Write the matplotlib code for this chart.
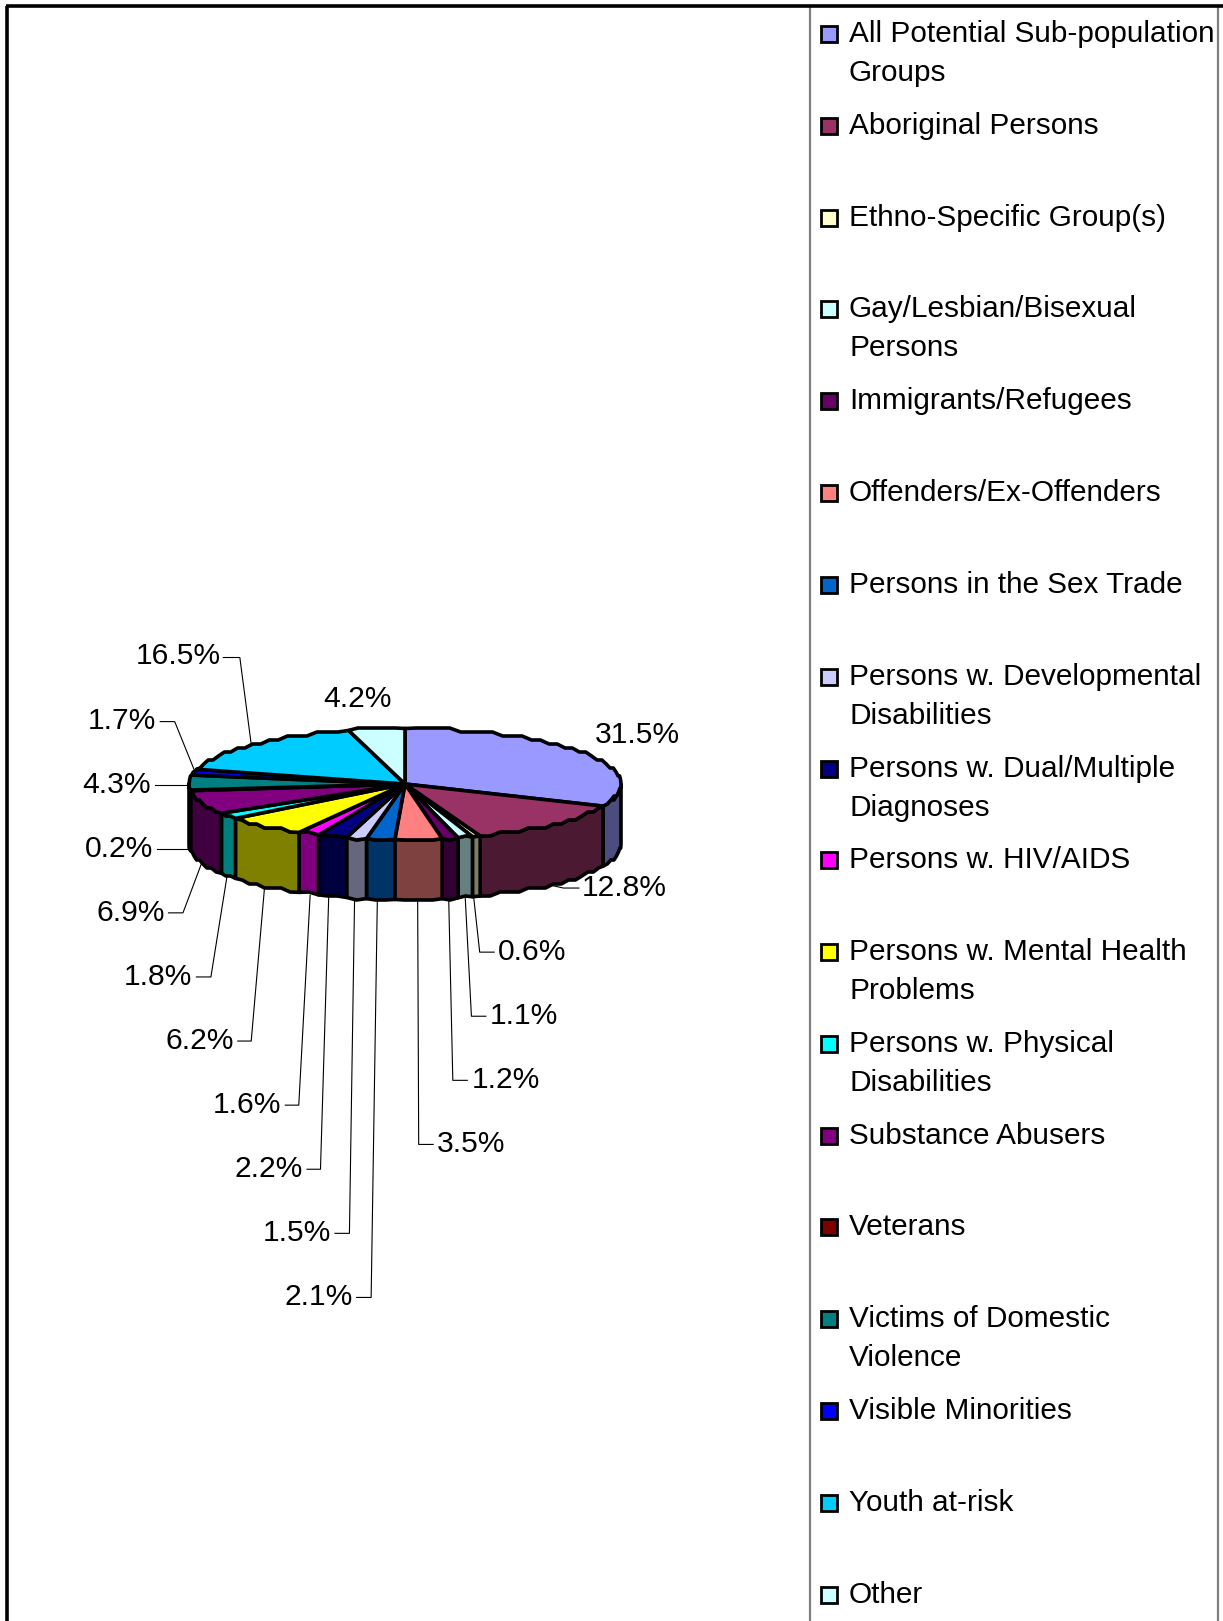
import numpy as np
from matplotlib import pyplot as plt
from matplotlib.patches import Rectangle

plt.rcParams['font.family'] = ['Liberation Sans', 'DejaVu Sans']

categories = ["All Potential Sub-population\nGroups", "Aboriginal Persons", "Ethno-Specific Group(s)",
              "Gay/Lesbian/Bisexual\nPersons", "Immigrants/Refugees", "Offenders/Ex-Offenders",
              "Persons in the Sex Trade", "Persons w. Developmental\nDisabilities",
              "Persons w. Dual/Multiple\nDiagnoses", "Persons w. HIV/AIDS",
              "Persons w. Mental Health\nProblems", "Persons w. Physical\nDisabilities",
              "Substance Abusers", "Veterans", "Victims of Domestic\nViolence",
              "Visible Minorities", "Youth at-risk", "Other"]
values = [31.5, 12.8, 0.6, 1.1, 1.2, 3.5, 2.1, 1.5, 2.2, 1.6, 6.2, 1.8, 6.9, 0.2, 4.3, 1.7, 16.5, 4.2]
colors = ["#9999FF", "#993366", "#FFFFCC", "#CCFFFF", "#660066", "#FF8080", "#0066CC", "#CCCCFF", "#000080",
          "#FF00FF", "#FFFF00", "#00FFFF", "#800080", "#800000", "#008080", "#0000FF", "#00CCFF", "#CCFFFF"]
side_colors = ["#4C4C7F", "#4C1933", "#7F7F66", "#667F7F", "#330033", "#7F4040", "#003366", "#66667F", "#000040",
               "#7F007F", "#7F7F00", "#007F7F", "#400040", "#400000", "#004040", "#00007F", "#00667F", "#667F7F"]
legend_y = [31, 120, 209, 297, 386, 475, 564, 653, 742, 830, 919, 1008, 1097, 1185, 1274, 1363, 1452, 1541]

# label text, centre of text, leader line (shown-size coords, scaled below)
labels = [
    ("31.5%", 617, 709, []),
    ("12.8%", 604, 857, [(560, 859), (545, 859), (527, 855)]),
    ("0.6%", 515, 919, [(478, 921), (464, 921), (458, 866)]),
    ("1.1%", 507, 981, [(470, 983), (456, 983), (450, 868)]),
    ("1.2%", 489, 1043, [(452, 1045), (438, 1045), (434, 868)]),
    ("3.5%", 456, 1105, [(419, 1107), (405, 1107), (404, 870)]),
    ("2.1%", 308, 1253, [(345, 1255), (359, 1255), (365, 870)]),
    ("1.5%", 287, 1191, [(324, 1193), (338, 1193), (343, 868)]),
    ("2.2%", 260, 1129, [(297, 1131), (310, 1131), (318, 866)]),
    ("1.6%", 239, 1067, [(276, 1069), (289, 1069), (300, 866)]),
    ("6.2%", 193, 1005, [(230, 1007), (243, 1007), (256, 857)]),
    ("1.8%", 153, 943, [(190, 945), (204, 945), (220, 845)]),
    ("6.9%", 126, 881, [(163, 883), (177, 883), (195, 835)]),
    ("0.2%", 115, 819, [(152, 821), (184, 821)]),
    ("4.3%", 113, 757, [(150, 759), (184, 759)]),
    ("1.7%", 118, 695, [(155, 698), (169, 698), (188, 745)]),
    ("16.5%", 172, 633, [(216, 636), (232, 636), (243, 720)]),
    ("4.2%", 346, 674, []),
]

S = 1223 / 1183
CX, CY, RX, RY, DEPTH = 405, 784, 216, 55.5, 60
TEXT_SHIFT = 2


def rim(a0, a1, dy=0):
    # points on the ellipse, angle clockwise from top, stepped like the low-res original
    n = max(2, int((a1 - a0) / 3) + 2)
    a = np.radians(np.linspace(a0, a1, n))
    x = CX + RX * np.sin(a)
    y = CY - RY * np.cos(a)
    y[1:-1] = np.round(y[1:-1] / 4) * 4
    return x, y + dy


fig = plt.figure(figsize=(12.23, 16.21), dpi=100)
ax = fig.add_axes([0, 0, 1, 1])
ax.set_xlim(0, 1223)
ax.set_ylim(1621, 0)
ax.axis("off")

# outer frame, only top and left show
ax.plot([7, 7], [1621, 6], color="black", lw=2.6, solid_capstyle="butt")
ax.plot([6, 1223], [6, 6], color="black", lw=2.6, solid_capstyle="butt")

edges = np.cumsum([0] + values) / sum(values) * 360

# side wall, only the front half
for i in range(len(values)):
    a0, a1 = max(edges[i], 90), min(edges[i + 1], 270)
    if a1 <= a0:
        continue
    x, y = rim(a0, a1)
    xb, yb = rim(a0, a1, DEPTH)
    ax.fill(np.r_[x, xb[::-1]], np.r_[y, yb[::-1]], facecolor=side_colors[i], edgecolor="black",
            lw=2.6, joinstyle="round", zorder=2)

# top face
for i in range(len(values)):
    x, y = rim(edges[i], edges[i + 1])
    ax.fill(np.r_[CX, x], np.r_[CY, y], facecolor=colors[i], edgecolor="black", lw=2.6,
            joinstyle="round", zorder=3)

# labels and leaders
for text, tx, ty, line in labels:
    ax.text(tx * S, (ty + TEXT_SHIFT) * S, text, fontsize=21.6, ha="center", va="center", color="black", zorder=5)
    if line:
        ax.plot([p[0] * S for p in line], [p[1] * S for p in line], color="black", lw=0.8, zorder=1)

# legend
ax.plot([810, 810], [6, 1621], color="#808080", lw=1.6, zorder=1)
ax.plot([1218, 1218], [6, 1621], color="#808080", lw=1.6, zorder=1)
for name, col, ly in zip(categories, colors, legend_y):
    y0 = ly * S
    ax.add_patch(Rectangle((821, y0 - 6.5), 16, 16, facecolor=col, edgecolor="black", lw=2, zorder=4))
    for k, part in enumerate(name.split("\n")):
        ax.text(849, y0 + TEXT_SHIFT * S + k * 38.6, part, fontsize=21.4, ha="left", va="center", color="black", zorder=5)

fig.savefig("out.png", dpi=100)
